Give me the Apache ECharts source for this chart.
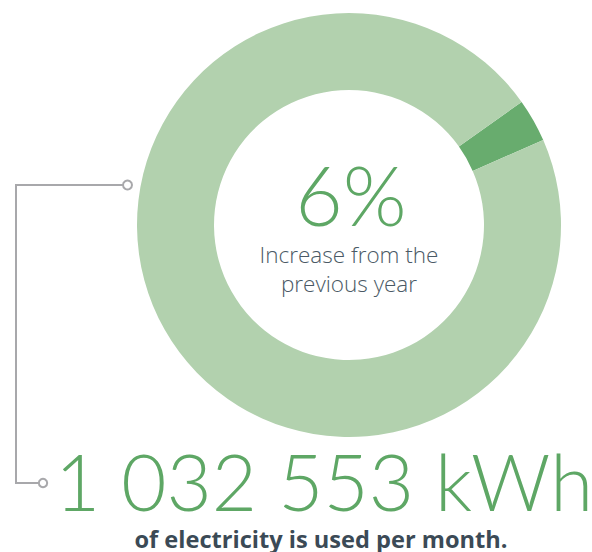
<!DOCTYPE html>
<html>
<head>
<meta charset="utf-8">
<script src="https://cdn.jsdelivr.net/npm/echarts@6/dist/echarts.min.js"></script>
<style>
html,body{margin:0;padding:0;background:#fff;}
#chart{width:592px;height:552px;}
</style>
</head>
<body>
<div id="chart"></div>
<script>
// ---- data ----
const sliceNames = ['Increase from the previous year', 'Remainder'];
const sliceValues = [3.3, 96.7];
const headlineText = '6%';
const subTextLines = ['Increase from the', 'previous year'];
const totalText = '1 032 553 kWh';
const footnoteText = 'of electricity is used per month.';

// ---- styles ----
const sliceColors = ['#68ac6e', '#b2d1ae'];
const green = '#5ea765';
const slate = '#4a5965';

const chart = echarts.init(document.getElementById('chart'), null, { renderer: 'svg' });

chart.setOption({
  animation: false,
  series: [{
    type: 'pie',
    silent: true,
    radius: [135, 212],
    center: [349, 225],
    startAngle: 35.5,
    clockwise: true,
    label: { show: false },
    labelLine: { show: false },
    itemStyle: { borderWidth: 0 },
    data: sliceNames.map((n, i) => ({ name: n, value: sliceValues[i], itemStyle: { color: sliceColors[i] } }))
  }],
  graphic: [
    {
      type: 'polyline',
      shape: { points: [[127.5, 185], [16, 185], [16, 483], [43, 483]] },
      style: { stroke: '#a8a8ab', lineWidth: 2, fill: null }
    },
    {
      type: 'circle',
      shape: { cx: 127.5, cy: 185, r: 4.5 },
      style: { stroke: '#a8a8ab', lineWidth: 2, fill: '#fff' }
    },
    {
      type: 'circle',
      shape: { cx: 43, cy: 483, r: 4.2 },
      style: { stroke: '#a8a8ab', lineWidth: 2, fill: '#fff' }
    },
    {
      type: 'text',
      style: {
        text: headlineText, x: 351, y: 194, align: 'center', verticalAlign: 'middle',
        font: '300 82px Lato', fill: green
      }
    },
    {
      type: 'text',
      style: {
        text: subTextLines[0], x: 349, y: 254, align: 'center', verticalAlign: 'middle',
        font: '300 22.5px "Open Sans"', fill: slate
      }
    },
    {
      type: 'text',
      style: {
        text: subTextLines[1], x: 349, y: 283, align: 'center', verticalAlign: 'middle',
        font: '300 22.5px "Open Sans"', fill: slate
      }
    },
    {
      type: 'text',
      style: {
        text: totalText, x: 324, y: 481, align: 'center', verticalAlign: 'middle',
        font: '300 78px Lato', fill: green
      }
    },
    {
      type: 'text',
      style: {
        text: footnoteText, x: 321, y: 539, align: 'center', verticalAlign: 'middle',
        font: '700 23.6px "Open Sans"', fill: '#3b4a56'
      }
    }
  ]
});
</script>
</body>
</html>
